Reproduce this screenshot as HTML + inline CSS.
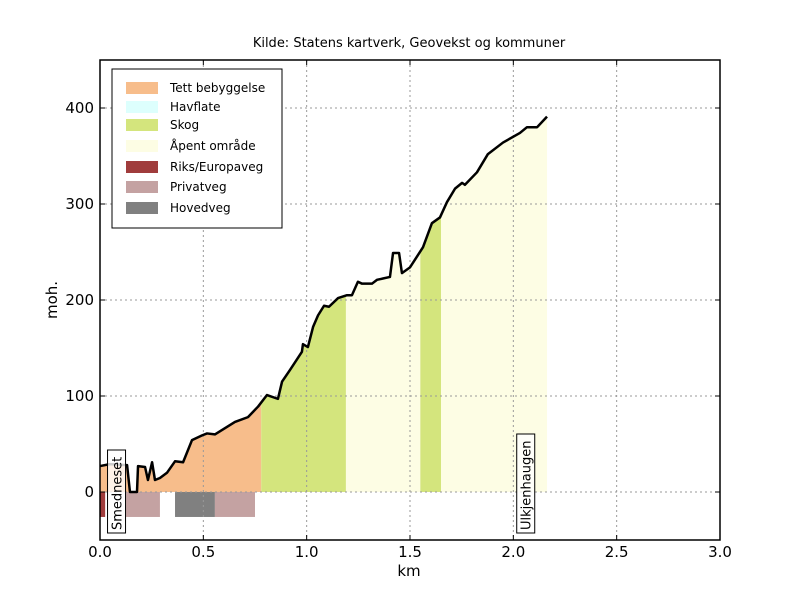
<!DOCTYPE html>
<html><head><meta charset="utf-8"><style>
body{margin:0;background:#fff;}
svg{font-family:"DejaVu Sans","Liberation Sans",sans-serif;}
</style></head><body>
<svg id="c" width="800" height="600" xmlns="http://www.w3.org/2000/svg"></svg>
<script>
const distKm=[0,0.048,0.131,0.145,0.179,0.184,0.218,0.232,0.252,0.266,0.290,0.324,0.363,0.402,0.445,0.494,0.518,0.556,0.653,0.716,0.765,0.808,0.861,0.881,0.919,0.977,0.982,1.006,1.031,1.055,1.084,1.108,1.152,1.195,1.219,1.248,1.268,1.316,1.340,1.403,1.418,1.447,1.461,1.500,1.524,1.563,1.606,1.645,1.679,1.718,1.752,1.766,1.824,1.877,1.950,2.032,2.066,2.115,2.163];
const elevM=[27,29,28,0,0,27,26,12.5,31,12.5,14.6,20,32,31,54,59,61,60,73,78,89,101,97,115,127,146,154,151,172,184,194,193,202,205,205,219,217,217,221,224,249,249,228,234,242,255,280,286,302,316,322,320,333,352,364,374,380,380,391];
const landStart=[0,0.78,1.19,1.55,1.65];
const landEnd=[0.78,1.19,1.55,1.65,2.17];
const landType=["tett","skog","apent","skog","apent"];
const roadStart=[0,0.126,0.363,0.556];
const roadEnd=[0.025,0.29,0.556,0.75];
const roadType=["riks","privat","hoved","privat"];
const xTicks=[0,0.5,1,1.5,2,2.5,3];
const xTickLabels=["0.0","0.5","1.0","1.5","2.0","2.5","3.0"];
const yTicks=[0,100,200,300,400];
const legendKeys=["tett","hav","skog","apent","riks","privat","hoved"];
const legendLabels=["Tett bebyggelse","Havflate","Skog","Åpent område","Riks/Europaveg","Privatveg","Hovedveg"];
const colors={tett:"#f7bd8b",hav:"#ddfffd",skog:"#d4e57d",apent:"#fdfde4",riks:"#a03c3c",privat:"#c4a2a2",hoved:"#808080"};

const NS="http://www.w3.org/2000/svg";
const svg=document.getElementById('c');
const L=100,R=720,T=60,B=540;
const X=v=>L+(v-0)/3*(R-L);
const Y=v=>B-(v+50)/500*(B-T);
function mk(tag,at,parent){const e=document.createElementNS(NS,tag);for(const k in at)e.setAttribute(k,at[k]);(parent||svg).appendChild(e);return e;}

// clip path for profile
const defs=mk('defs',{});
const cp=mk('clipPath',{id:'prof'},defs);
let pts=distKm.map((d,i)=>X(d)+','+Y(elevM[i])).join(' ');
pts+=' '+X(distKm[distKm.length-1])+','+Y(0)+' '+X(0)+','+Y(0);
mk('polygon',{points:pts},cp);

const g=mk('g',{'clip-path':'url(#prof)'});
landStart.forEach((s,i)=>{
  const r=mk('rect',{x:X(s),y:T,width:X(landEnd[i])-X(s),height:Y(0)-T,fill:colors[landType[i]]},g);
  
  
});
roadStart.forEach((s,i)=>{
  const r=mk('rect',{x:X(s),y:Y(0),width:X(roadEnd[i])-X(s),height:Y(-26)-Y(0),fill:colors[roadType[i]]});
  
  
});

// grid
xTicks.forEach(t=>{if(t>0&&t<3){const l=mk('line',{x1:X(t),x2:X(t),y1:T,y2:B,stroke:'#999','stroke-dasharray':'2,3','stroke-width':1});}});
yTicks.forEach(t=>{const l=mk('line',{x1:L,x2:R,y1:Y(t),y2:Y(t),stroke:'#999','stroke-dasharray':'2,3','stroke-width':1});});

const line=mk('polyline',{points:distKm.map((d,i)=>X(d)+','+Y(elevM[i])).join(' '),fill:'none',stroke:'#000','stroke-width':2.5,'stroke-linejoin':'round'});



// place labels
function place(km,name,txt,w){
  const cx=X(km);
  const gg=mk('g',{});
  
  
  mk('rect',{x:cx-9,y:533-w,width:18,height:w,fill:'#fff','fill-opacity':0.8,stroke:'#000','stroke-width':1},gg);
  const t=mk('text',{x:0,y:0,transform:`translate(${cx+5},${530}) rotate(-90)`,'font-size':13},gg);t.textContent=txt;
}
place(0.08,'label-smedneset','Smedneset',83);
place(2.06,'label-ulkjenhaugen','Ulkjenhaugen',99);

// frame
const fr=mk('rect',{x:L,y:T,width:R-L,height:B-T,fill:'none',stroke:'#000','stroke-width':1.5});


xTicks.forEach((t,i)=>{
  mk('line',{x1:X(t),x2:X(t),y1:B,y2:B-5,stroke:'#000'});
  mk('line',{x1:X(t),x2:X(t),y1:T,y2:T+5,stroke:'#000'});
  const tx=mk('text',{x:X(t),y:557,'font-size':15,'text-anchor':'middle'});tx.textContent=xTickLabels[i];
  
});
yTicks.forEach(t=>{
  mk('line',{x1:L,x2:L+5,y1:Y(t),y2:Y(t),stroke:'#000'});
  mk('line',{x1:R,x2:R-5,y1:Y(t),y2:Y(t),stroke:'#000'});
  const tx=mk('text',{x:94,y:Y(t)+5,'font-size':15,'text-anchor':'end'});tx.textContent=t;
  
});

let e=mk('text',{x:409,y:576,'font-size':15,'text-anchor':'middle'});e.textContent='km';

e=mk('text',{x:0,y:0,transform:'translate(57,300) rotate(-90)','font-size':15,'text-anchor':'middle'});e.textContent='moh.';

e=mk('text',{x:409,y:47,'font-size':13,'text-anchor':'middle'});e.textContent='Kilde: Statens kartverk, Geovekst og kommuner';


// legend
const lg=mk('g',{});

mk('rect',{x:112,y:69,width:170,height:159,fill:'#fff',stroke:'#000','stroke-width':1},lg);
const ly=[88,107,125,146,167,187,208];
legendKeys.forEach((k,i)=>{
  const en=mk('g',{},lg);
  
  
  mk('rect',{x:126,y:ly[i]-6,width:32,height:12,fill:colors[k]},en);
  const t=mk('text',{x:170,y:ly[i]+4,'font-size':12},en);t.textContent=legendLabels[i];
});
</script>
</body></html>
